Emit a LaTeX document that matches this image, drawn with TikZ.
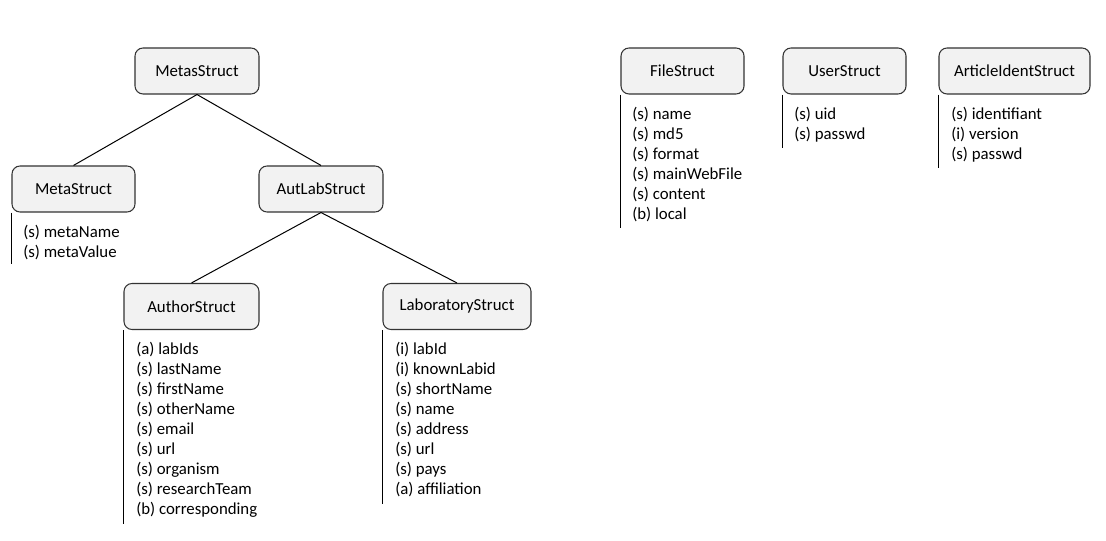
\documentclass[tikz,border=0pt]{standalone}
\usepackage{fontspec}
\setmainfont{Carlito}
\begin{document}
\begin{tikzpicture}[x=0.75pt,y=-0.75pt,
  box/.style={draw=black!80, fill=black!5, rounded corners=6pt, line width=0.8pt,
    minimum height=34.5pt, inner sep=0pt, font=\fontsize{12.6}{15}\selectfont},
  attrs/.style={anchor=north west, align=left, inner sep=0pt,
    font=\fontsize{12.6}{15}\selectfont},
  link/.style={draw=black, line width=0.75pt},
  stem/.style={draw=black, line width=0.75pt}]
\useasboundingbox (0,0) rectangle (1106,541);
% boxes
\node[box, minimum width=93pt] (metas) at (197,71) {MetasStruct};
\node[box, minimum width=92.25pt] (meta) at (73.5,189) {MetaStruct};
\node[box, minimum width=93pt] (autlab) at (321,189) {AutLabStruct};
\node[box, minimum width=101.25pt] (author) at (191.5,306.5) {AuthorStruct};
\node[box, minimum width=111pt] (lab) at (457,306.5) {LaboratoryStruct};
\node[box, minimum width=92.25pt] (file) at (682.5,71) {FileStruct};
\node[box, minimum width=92.25pt] (user) at (844.5,71) {UserStruct};
\node[box, minimum width=113.25pt] (article) at (1014.5,71) {ArticleIdentStruct};
% tree links
\draw[link] (metas.south) -- (meta.north);
\draw[link] (metas.south) -- (autlab.north);
\draw[link] (autlab.south) -- (author.north);
\draw[link] (autlab.south) -- (lab.north);
% stems
\draw[stem] (meta.south west) -- ++(0,51);
\draw[stem] (author.south west) -- ++(0,194);
\draw[stem] (lab.south west) -- ++(0,174);
\draw[stem] (file.south west) -- ++(0,133);
\draw[stem] (user.south west) -- ++(0,53);
\draw[stem] (article.south west) -- ++(0,73);
% attribute lists
\node[attrs] (metaattr) at (23,224.5) {(s) metaName\\(s) metaValue};
\node[attrs] (authorattr) at (136,341.5) {(a) labIds\\(s) lastName\\(s) firstName\\(s) otherName\\(s) email\\(s) url\\(s) organism\\(s) researchTeam\\(b) corresponding};
\node[attrs] (labattr) at (395,341.5) {(i) labId\\(i) knownLabid\\(s) shortName\\(s) name\\(s) address\\(s) url\\(s) pays\\(a) affiliation};
\node[attrs] (fileattr) at (632,106.5) {(s) name\\(s) md5\\(s) format\\(s) mainWebFile\\(s) content\\(b) local};
\node[attrs] (userattr) at (794,106.5) {(s) uid\\(s) passwd};
\node[attrs] (articleattr) at (951,106.5) {(s) identifiant\\(i) version\\(s) passwd};
\end{tikzpicture}
\end{document}
